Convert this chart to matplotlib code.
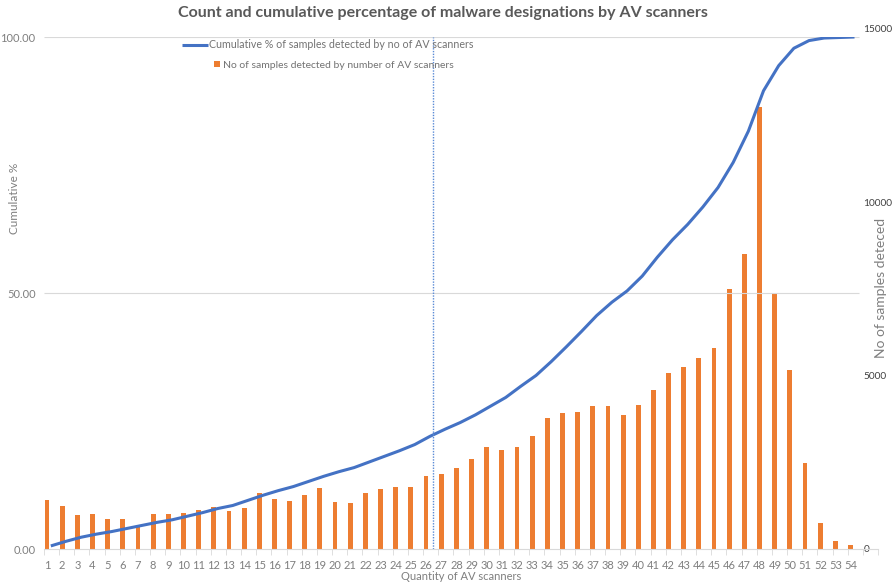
import matplotlib
matplotlib.use('Agg')
import matplotlib.pyplot as plt
import numpy as np

plt.rcParams['font.family'] = ['Lato', 'DejaVu Sans']

# number of AV scanners that flagged a sample
scanners = list(range(1, 55))
# samples detected by exactly that many scanners
samples = [1390, 1215, 955, 1005, 840, 865, 645, 985, 990, 1020,
           1125, 1185, 1080, 1165, 1600, 1435, 1360, 1550, 1735, 1340,
           1310, 1590, 1705, 1770, 1770, 2080, 2160, 2320, 2580, 2920,
           2850, 2930, 3235, 3755, 3910, 3940, 4110, 4110, 3850, 4140,
           4565, 5060, 5230, 5500, 5780, 7505, 8495, 12735, 7340, 5145,
           2475, 745, 230, 90]
# cumulative share of samples (%)
cumulative = [0.6, 1.5, 2.3, 2.9, 3.4, 4.0, 4.6, 5.2, 5.7, 6.4,
              7.1, 7.9, 8.5, 9.5, 10.5, 11.4, 12.2, 13.2, 14.2, 15.1,
              15.9, 17.0, 18.1, 19.2, 20.4, 22.0, 23.4, 24.7, 26.2, 27.9,
              29.6, 31.8, 33.9, 36.6, 39.5, 42.5, 45.6, 48.2, 50.4, 53.3,
              57.0, 60.4, 63.4, 66.8, 70.6, 75.5, 81.6, 89.5, 94.4, 97.8,
              99.3, 99.8, 99.9, 100.0]
marker_at = 26.46

W, H = 894, 585
def box(l, t, r, b):
    return [l / W, 1 - b / H, (r - l) / W, (b - t) / H]

fig = plt.figure(figsize=(W / 100, H / 100), dpi=100)

# bars on the secondary (count) axis
axb = fig.add_axes(box(44, 29, 858, 548.5))
bars = axb.bar(scanners, samples, width=0.32, color='#ed7d31')
axb.set_xlim(0.8, 0.8 + 814 / 15.16)
axb.set_ylim(0, 15000)
axb.set_yticks([0, 5000, 10000, 15000])
axb.yaxis.tick_right()
axb.tick_params(axis='y', length=0, pad=4, labelsize=7.3, labelcolor='#404040')
axb.set_xticks([])
for s in axb.spines.values():
    s.set_visible(False)

# cumulative line on the primary axis
axl = fig.add_axes(box(44, 37, 878, 549))
axl.set_facecolor('none')
axl.set_xlim(0.8, 55.8)
axl.set_ylim(0, 100)
axl.hlines([50, 100], 0.8, 54.54, color='#d9d9d9', lw=0.8, zorder=0)
line, = axl.plot(np.array(scanners) + 0.25, cumulative, color='#4472c4', lw=2.2,
                 solid_capstyle='butt', solid_joinstyle='round')
axl.axvline(marker_at, color='#5b8bd6', lw=1.0, ls=(0, (1, 1)))

axl.set_yticks([0, 50, 100])
axl.set_yticklabels(['0.00', '50.00', '100.00'])
axl.set_xticks(scanners)
axl.set_xticks(np.arange(0.8, 56, 1), minor=True)
axl.tick_params(axis='y', length=0, pad=6, labelsize=8, labelcolor='#7f7f7f')
axl.tick_params(axis='x', which='major', length=0, pad=8, labelsize=8, labelcolor='#7f7f7f')
axl.tick_params(axis='x', which='minor', length=4, color='#d9d9d9')
for k in ['top', 'left', 'right']:
    axl.spines[k].set_visible(False)
axl.spines['bottom'].set_color('#d9d9d9')

fig.text(443 / W, 1 - 13 / H, 'Count and cumulative percentage of malware designations by AV scanners',
         ha='center', va='center', fontsize=11.5, fontweight='bold', color='#595959')
fig.text(461 / W, 1 - 577 / H, 'Quantity of AV scanners', ha='center', va='center',
         fontsize=8, color='#7f7f7f')
fig.text(14 / W, 1 - 198 / H, 'Cumulative %', ha='center', va='center', rotation=90,
         fontsize=8.5, color='#7f7f7f')
fig.text(881 / W, 1 - 288 / H, 'No of samples deteced', ha='center', va='center', rotation=90,
         fontsize=10, color='#7f7f7f')

fig.legend([line], ['Cumulative % of samples detected by no of AV scanners'],
           loc='center left', bbox_to_anchor=(182 / W, 1 - 45 / H), frameon=False,
           borderpad=0, borderaxespad=0, handlelength=2.4, handletextpad=0.15,
           fontsize=7.7, labelcolor='#737373')
fig.legend([bars], ['No of samples detected by number of AV scanners'],
           loc='center left', bbox_to_anchor=(214 / W, 1 - 65 / H), frameon=False,
           borderpad=0, borderaxespad=0, handlelength=0.6, handleheight=0.6,
           handletextpad=0.3, fontsize=7.5, labelcolor='#737373')

fig.savefig('out.png', dpi=100)
